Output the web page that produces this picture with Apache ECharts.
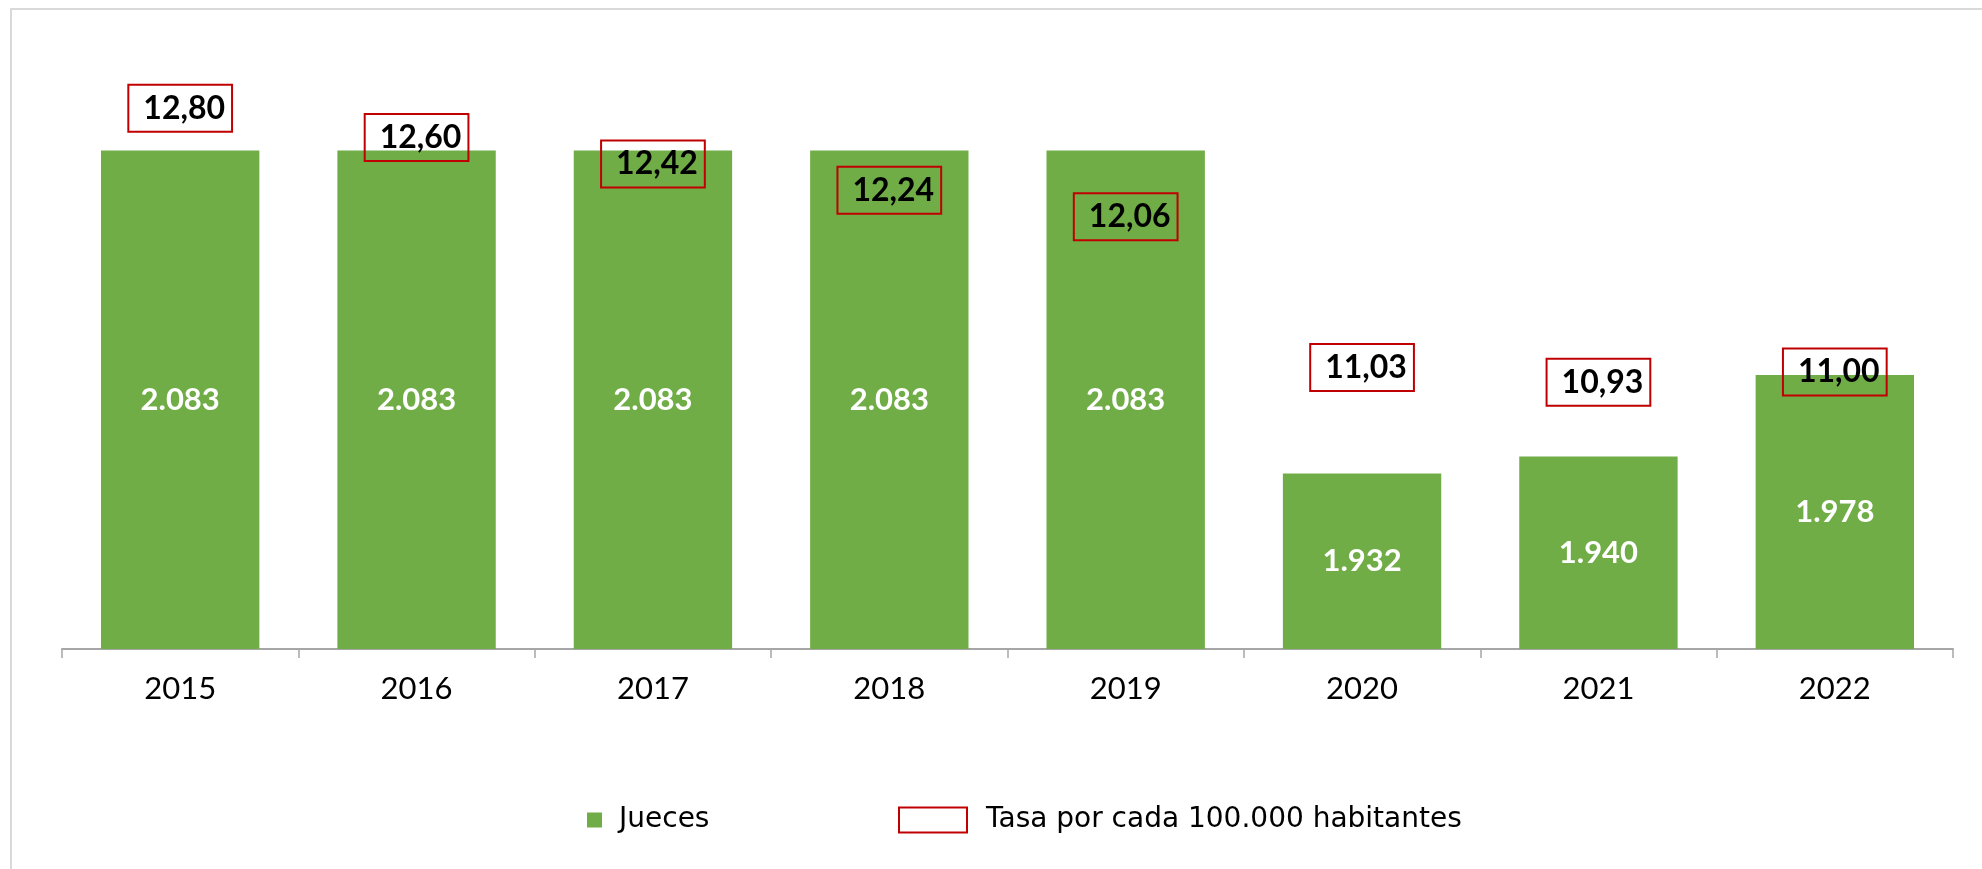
<!DOCTYPE html>
<html>
<head>
<meta charset="utf-8">
<title>Jueces y tasa por cada 100.000 habitantes</title>
<script src="https://cdn.jsdelivr.net/npm/echarts@6/dist/echarts.min.js"></script>
<style>
  html, body { margin: 0; padding: 0; background: #fff; }
  #chart { width: 1982px; height: 869px; }
</style>
</head>
<body>
<div id="chart"></div>
<script>
'use strict';

// chart data
const years = ['2015', '2016', '2017', '2018', '2019', '2020', '2021', '2022'];
const jueces = [2083, 2083, 2083, 2083, 2083, 1932, 1940, 1978];
const tasa = [12.80, 12.60, 12.42, 12.24, 12.06, 11.03, 10.93, 11.00];

const FONT = 'Lato, "Liberation Sans", sans-serif';
const LEGEND_FONT = '"DejaVu Sans", Lato, sans-serif';
const GREEN = '#70ad47';
const RED = '#c00000';

// 2083 -> "2.083"
const fmtThousands = v => String(v).replace(/\B(?=(\d{3})+(?!\d))/g, '.');
// 12.8 -> "12,80"
const fmtRate = v => v.toFixed(2).replace('.', ',');

const chart = echarts.init(document.getElementById('chart'), null, { renderer: 'canvas' });

chart.setOption({
    animation: false,
    backgroundColor: '#fff',
    textStyle: { fontFamily: FONT },
    graphic: [{
        type: 'rect',
        shape: { x: 11, y: 9, width: 2000, height: 900 },
        style: { fill: 'none', stroke: '#d9d9d9', lineWidth: 2 },
        silent: true
    }],
    grid: [
        { left: 62, right: 29, top: 114, bottom: 220 },
        // hidden grid that places the rate boxes
        { left: 62, right: 29, top: 79, bottom: 204 }
    ],
    legend: [
        {
            data: ['Jueces'],
            left: 582,
            top: 801,
            icon: 'rect',
            itemWidth: 15,
            itemHeight: 15,
            selectedMode: false,
            textStyle: { fontSize: 28, color: '#000', padding: [0, 0, 0, 12], fontFamily: LEGEND_FONT }
        },
        {
            data: ['Tasa por cada 100.000 habitantes'],
            left: 893,
            top: 801,
            icon: 'rect',
            itemWidth: 68,
            itemHeight: 25,
            selectedMode: false,
            itemStyle: { color: '#fff', borderColor: RED, borderWidth: 2, opacity: 1 },
            textStyle: { fontSize: 28, color: '#000', padding: [0, 0, 0, 14], fontFamily: LEGEND_FONT }
        }
    ],
    xAxis: [
        {
            type: 'category',
            gridIndex: 0,
            data: years,
            axisLine: { lineStyle: { color: '#a6a6a6', width: 2 } },
            axisTick: { show: true, length: 9, lineStyle: { color: '#a6a6a6', width: 1.5 } },
            axisLabel: { fontSize: 31, color: '#000', margin: 24, fontFamily: FONT }
        },
        {
            type: 'category',
            gridIndex: 1,
            data: years,
            show: false
        }
    ],
    yAxis: [
        {
            type: 'value',
            gridIndex: 0,
            min: 1850,
            max: 2100,
            show: false,
            splitLine: { show: false }
        },
        {
            type: 'value',
            gridIndex: 1,
            min: 9,
            max: 13,
            show: false,
            splitLine: { show: false }
        }
    ],
    series: [
        {
            name: 'Jueces',
            type: 'bar',
            xAxisIndex: 0,
            yAxisIndex: 0,
            data: jueces,
            barCategoryGap: '33%',
            itemStyle: { color: GREEN },
            label: {
                show: true,
                position: 'inside',
                color: '#fff',
                fontSize: 31,
                fontWeight: 'bold',
                fontFamily: FONT,
                formatter: p => fmtThousands(p.value)
            }
        },
        {
            name: 'Tasa por cada 100.000 habitantes',
            type: 'scatter',
            xAxisIndex: 1,
            yAxisIndex: 1,
            data: tasa,
            symbolSize: 1,
            clip: false,
            itemStyle: { color: 'rgba(0,0,0,0)', opacity: 1 },
            label: {
                show: true,
                position: 'inside',
                color: '#000',
                fontSize: 32,
                fontWeight: 'bold',
                fontFamily: FONT,
                borderColor: RED,
                borderWidth: 2,
                padding: [8, 7, 7, 15],
                formatter: p => fmtRate(p.value)
            }
        }
    ]
});
</script>
</body>
</html>
